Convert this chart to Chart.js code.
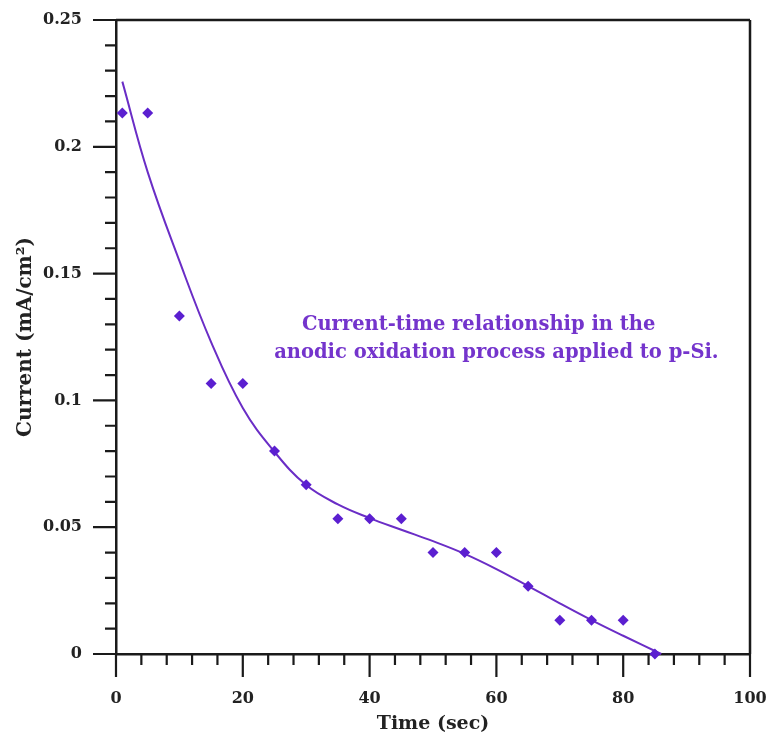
<!DOCTYPE html>
<html>
<head>
<meta charset="utf-8">
<script src="https://cdn.jsdelivr.net/npm/chart.js@4"></script>
<style>
  html, body { margin: 0; padding: 0; background: #fff; }
  #wrap { width: 769px; height: 737px; position: relative; }
</style>
</head>
<body>
<div id="wrap"><canvas id="chart" width="769" height="737"></canvas></div>
<script>
// measured points (time in sec, current in mA/cm2)
var timeSec = [1, 5, 10, 15, 20, 25, 30, 35, 40, 45, 50, 55, 60, 65, 70, 75, 80, 85];
var currentMeasured = [0.2133, 0.2133, 0.1333, 0.1067, 0.1067, 0.08, 0.0667, 0.0533, 0.0533, 0.0533,
                       0.04, 0.04, 0.04, 0.0267, 0.0133, 0.0133, 0.0133, 0];

// fitted curve
var fitTime = [1, 5, 10, 15, 20, 25, 30, 35, 40, 45, 50, 55, 60, 65, 70, 75, 80, 86];
var fitCurrent = [0.2257, 0.19, 0.155, 0.123, 0.097, 0.0797, 0.0666, 0.059, 0.0536, 0.049, 0.0445,
                  0.0395, 0.0335, 0.0268, 0.02, 0.0134, 0.0072, 0];

var xTicks = [0, 20, 40, 60, 80, 100];
var yTicks = [0, 0.05, 0.1, 0.15, 0.2, 0.25];
var noteLines = ['Current-time relationship in the', 'anodic oxidation process applied to p-Si.'];

var FONT = '"DejaVu Serif", serif';

function pairs(xs, ys){
    return xs.map(function(x, i){ return {x: x, y: ys[i]}; });
}

// frame, tick marks and the note
var framePlugin = {
    id: 'frame',
    beforeDatasetsDraw: function(chart){
        var ctx = chart.ctx, a = chart.chartArea;
        var xs = chart.scales.x, ys = chart.scales.y;
        ctx.save();
        ctx.strokeStyle = '#1a1a1a';
        ctx.lineWidth = 2.5;
        ctx.beginPath();
        ctx.moveTo(a.left, a.top); ctx.lineTo(a.right, a.top);
        ctx.moveTo(a.right, a.top); ctx.lineTo(a.right, a.bottom);
        ctx.stroke();
        ctx.lineWidth = 2.2;
        ctx.beginPath();
        var v, p, len;
        for(v = 0; v <= 100; v += 4){
            p = xs.getPixelForValue(v);
            len = (v % 20 === 0) ? 23 : 11;
            ctx.moveTo(p, a.bottom); ctx.lineTo(p, a.bottom + len);
        }
        for(var k = 0; k <= 25; k++){
            p = ys.getPixelForValue(k / 100);
            len = (k % 5 === 0) ? 23 : 11;
            ctx.moveTo(a.left, p); ctx.lineTo(a.left - len, p);
        }
        ctx.stroke();

        ctx.fillStyle = '#7434cc';
        ctx.font = 'bold 19.5px ' + FONT;
        ctx.textAlign = 'center';
        ctx.textBaseline = 'middle';
        ctx.fillText(noteLines[0], xs.getPixelForValue(57.2), ys.getPixelForValue(0.1297));
        ctx.fillText(noteLines[1], xs.getPixelForValue(60), ys.getPixelForValue(0.1187));
        ctx.restore();
    }
};

new Chart(document.getElementById('chart').getContext('2d'), {
    type: 'scatter',
    data: {
        datasets: [
            {
                label: 'Measured',
                data: pairs(timeSec, currentMeasured),
                pointStyle: 'rectRot',
                pointRadius: 5.5,
                backgroundColor: '#5b1fd0',
                borderColor: '#5b1fd0',
                borderWidth: 0,
                showLine: false,
                clip: false
            },
            {
                label: 'Fit',
                data: pairs(fitTime, fitCurrent),
                showLine: true,
                pointRadius: 0,
                borderColor: '#6a2dc6',
                borderWidth: 2,
                tension: 0.4,
                fill: false,
                clip: false
            }
        ]
    },
    plugins: [framePlugin],
    options: {
        responsive: false,
        animation: false,
        layout: { padding: { top: 20, right: 19, left: 0, bottom: 0 } },
        plugins: { legend: { display: false }, tooltip: { enabled: false } },
        scales: {
            x: {
                type: 'linear', min: 0, max: 100,
                afterFit: function(s){ s.height = 83; s.paddingLeft = 0; s.paddingRight = 0; },
                afterBuildTicks: function(s){ s.ticks = xTicks.map(function(v){ return {value: v}; }); },
                grid: { display: false, drawTicks: false },
                border: { display: true, color: '#1a1a1a', width: 2.5 },
                ticks: { color: '#222', padding: 35, font: { family: FONT, size: 16, weight: 'bold' } },
                title: { display: true, text: 'Time (sec)', color: '#222', padding: { top: 0, bottom: 2 },
                         font: { family: FONT, size: 19, weight: 'bold' } }
            },
            y: {
                type: 'linear', min: 0, max: 0.25,
                afterFit: function(s){ s.width = 116; s.paddingTop = 0; s.paddingBottom = 0; },
                afterBuildTicks: function(s){ s.ticks = yTicks.map(function(v){ return {value: v}; }); },
                grid: { display: false, drawTicks: false },
                border: { display: true, color: '#1a1a1a', width: 2.5 },
                ticks: {
                    color: '#222', padding: 34, font: { family: FONT, size: 16, weight: 'bold' },
                    callback: function(v){ return String(Number(v.toFixed(2))); }
                },
                title: { display: true, text: 'Current (mA/cm²)', color: '#222', padding: { top: 14, bottom: 0 },
                         font: { family: FONT, size: 20, weight: 'bold' } }
            }
        }
    }
});
</script>
</body>
</html>
